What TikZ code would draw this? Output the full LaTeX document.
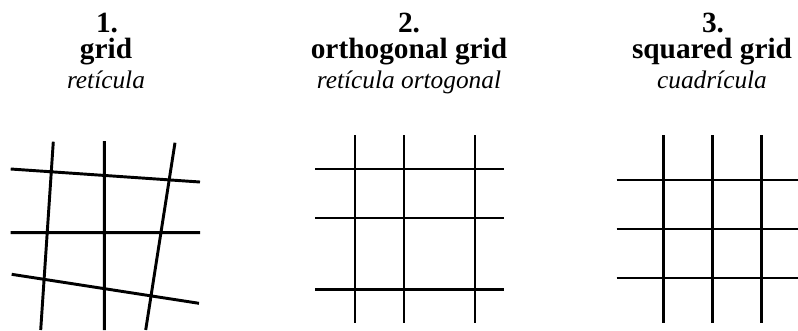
\documentclass[tikz,border=0pt]{standalone}
\usepackage{fontspec}
\setmainfont{Liberation Serif}
\begin{document}
\begin{tikzpicture}[x=0.75pt,y=-0.75pt,
  gl/.style={line width=2.2pt,black},
  ttl/.style={anchor=base,inner sep=0pt,text height=0.69em,font=\fontsize{22}{26}\selectfont\bfseries},
  sub/.style={anchor=base,inner sep=0pt,text height=0.69em,font=\fontsize{19}{23}\selectfont\itshape}]
\useasboundingbox (0,0) rectangle (798,330);
% titles
\node[ttl] (n1) at (107,32) {1.};
\node[ttl] (t1) at (106,58.5) {grid};
\node[sub] (s1) at (106,88.5) {retícula};
\node[ttl] (n2) at (409,32) {2.};
\node[ttl] (t2) at (409,58.5) {orthogonal grid};
\node[sub] (s2) at (409,88.5) {retícula ortogonal};
\node[ttl] (n3) at (713,32) {3.};
\node[ttl] (t3) at (712,58.5) {squared grid};
\node[sub] (s3) at (712,88.5) {cuadrícula};
% panel 1
\coordinate (a1) at (53.3,141.7); \coordinate (a2) at (40.7,330);
\coordinate (b1) at (104.3,141); \coordinate (b2) at (104.3,330);
\coordinate (c1) at (175,142.7); \coordinate (c2) at (145.7,330);
\coordinate (d1) at (10.7,169); \coordinate (d2) at (200,182);
\coordinate (e1) at (10.7,232.7); \coordinate (e2) at (200,232.7);
\coordinate (f1) at (11.7,274.3); \coordinate (f2) at (199,303.3);
\draw[gl] (a1)--(a2) (b1)--(b2) (c1)--(c2) (d1)--(d2) (e1)--(e2) (f1)--(f2);
% panel 2
\foreach \x [count=\i] in {355,404,475}{
  \coordinate (pv\i t) at (\x,135); \coordinate (pv\i b) at (\x,322.7);
  \draw[gl] (pv\i t)--(pv\i b);}
\foreach \y [count=\i] in {169,218,289.3}{
  \coordinate (ph\i l) at (315,\y); \coordinate (ph\i r) at (504,\y);
  \draw[gl] (ph\i l)--(ph\i r);}
% panel 3
\foreach \x [count=\i] in {663.3,712.3,761.7}{
  \coordinate (qv\i t) at (\x,135); \coordinate (qv\i b) at (\x,322.7);
  \draw[gl] (qv\i t)--(qv\i b);}
\foreach \y [count=\i] in {180,229,278}{
  \coordinate (qh\i l) at (616.7,\y); \coordinate (qh\i r) at (798,\y);
  \draw[gl] (qh\i l)--(qh\i r);}
\end{tikzpicture}
\end{document}
